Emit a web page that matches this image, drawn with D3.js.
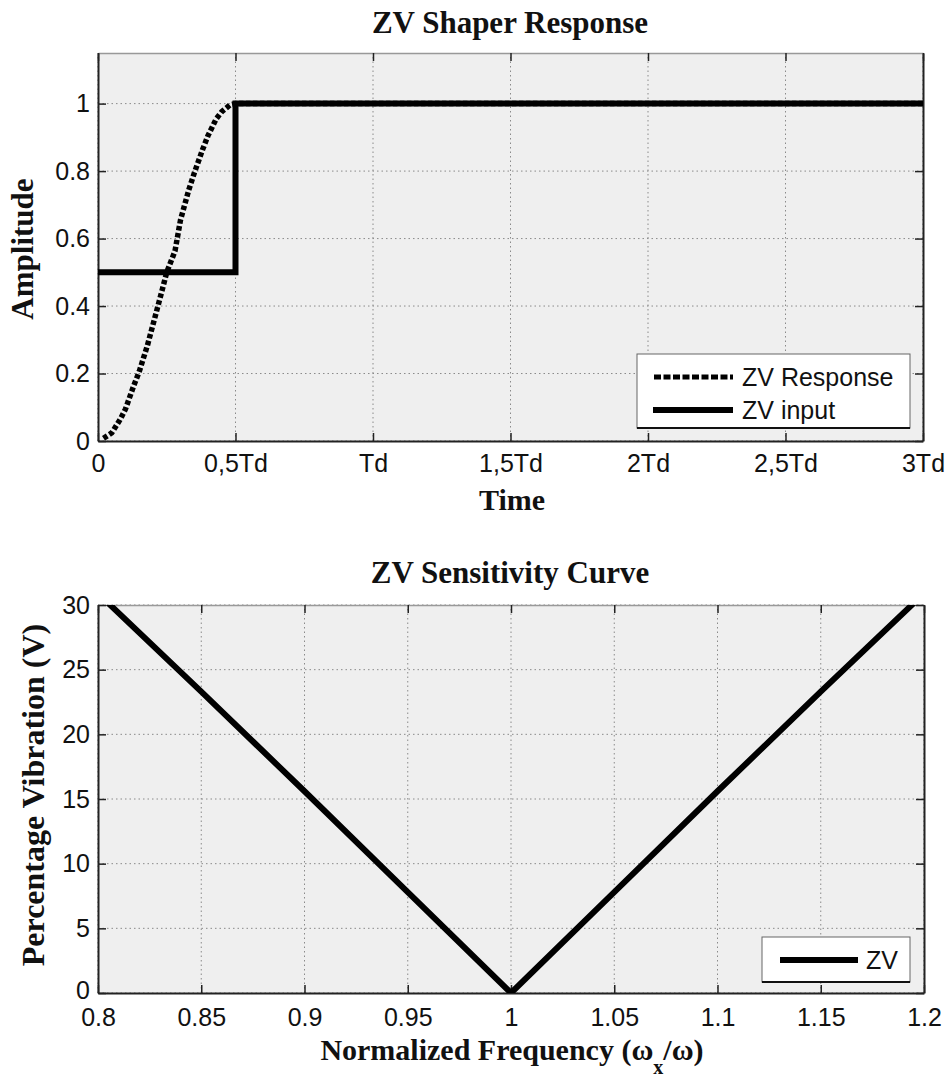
<!DOCTYPE html>
<html>
<head>
<meta charset="utf-8">
<script src="https://cdn.jsdelivr.net/npm/d3@7"></script>
<style>
  body { margin: 0; background: #fff; }
  .tick text { font-family: "Liberation Sans", Arial, sans-serif; font-size: 25px; fill: #111; }
  .ttl { font-family: "Liberation Serif", "Times New Roman", serif; font-weight: bold; fill: #111; }
</style>
</head>
<body>
<div id="chart"></div>
<script>
// top plot: time in units of Td
var respT = [0.02, 0.05, 0.08, 0.1, 0.13, 0.15, 0.18, 0.2, 0.23, 0.25, 0.28, 0.3, 0.33, 0.35, 0.38, 0.4, 0.43, 0.45, 0.48, 0.5, 3];
var respA = [0.008, 0.024, 0.063, 0.095, 0.164, 0.206, 0.284, 0.345, 0.437, 0.5, 0.563, 0.655, 0.744, 0.794, 0.863, 0.905, 0.955, 0.976, 0.996, 1.0, 1.0];
var inputT = [0, 0.5, 0.5, 3];
var inputA = [0.5, 0.5, 1, 1];
var timeTicks = [0, 0.5, 1, 1.5, 2, 2.5, 3];
var timeLabels = ["0", "0,5Td", "Td", "1,5Td", "2Td", "2,5Td", "3Td"];
var ampTicks = [0, 0.2, 0.4, 0.6, 0.8, 1];

// bottom plot
var freq = [0.8, 0.85, 0.9, 0.95, 1.0, 1.05, 1.1, 1.15, 1.2];
var vib = [30.9, 23.3, 15.6, 7.8, 0, 7.8, 15.6, 23.3, 30.9];
var freqTicks = [0.8, 0.85, 0.9, 0.95, 1, 1.05, 1.1, 1.15, 1.2];
var vibTicks = [0, 5, 10, 15, 20, 25, 30];

var svg = d3.select("#chart").append("svg")
    .attr("width", 950).attr("height", 1077);

function drawAxes(g, x, y, xt, xfmt, yt, yfmt, clipId, xpad) {
  var x0 = x.range()[0], x1 = x.range()[1];
  var y0 = y.range()[0], y1 = y.range()[1];

  g.append("rect")
    .attr("x", x0).attr("y", y1)
    .attr("width", x1 - x0).attr("height", y0 - y1)
    .attr("fill", "#efefef");

  g.append("clipPath").attr("id", clipId)
    .append("rect")
    .attr("x", x0).attr("y", y1)
    .attr("width", x1 - x0).attr("height", y0 - y1);

  // dotted grid
  g.selectAll(".vg").data(xt).enter().append("line")
    .attr("x1", d => x(d)).attr("x2", d => x(d))
    .attr("y1", y0).attr("y2", y1)
    .attr("stroke", "#8a8a8a").attr("stroke-width", 1)
    .attr("stroke-dasharray", "1.5,3");
  g.selectAll(".hg").data(yt).enter().append("line")
    .attr("x1", x0).attr("x2", x1)
    .attr("y1", d => y(d)).attr("y2", d => y(d))
    .attr("stroke", "#8a8a8a").attr("stroke-width", 1)
    .attr("stroke-dasharray", "1.5,3");

  var ax = g.append("g").attr("transform", "translate(0," + y0 + ")")
    .call(d3.axisBottom(x).tickValues(xt).tickFormat(xfmt)
      .tickSizeInner(-8).tickSizeOuter(0).tickPadding(xpad));
  var axT = g.append("g").attr("transform", "translate(0," + y1 + ")")
    .call(d3.axisTop(x).tickValues(xt).tickFormat("")
      .tickSizeInner(-8).tickSizeOuter(0));
  var ay = g.append("g").attr("transform", "translate(" + x0 + ",0)")
    .call(d3.axisLeft(y).tickValues(yt).tickFormat(yfmt)
      .tickSizeInner(-8).tickSizeOuter(0).tickPadding(8));
  var ayR = g.append("g").attr("transform", "translate(" + x1 + ",0)")
    .call(d3.axisRight(y).tickValues(yt).tickFormat("")
      .tickSizeInner(-8).tickSizeOuter(0));

  [ax, axT, ay, ayR].forEach(function(a) {
    a.select(".domain").attr("stroke", "#222").attr("stroke-width", 2);
    a.selectAll(".tick line").attr("stroke", "#222").attr("stroke-width", 1.5);
  });
  axT.select(".domain").attr("stroke", "#999").attr("stroke-width", 1.5);
  ax.selectAll(".tick text").attr("dy", "0.71em");
  return ay;
}

// ---------- top: ZV Shaper Response ----------
var xTop = d3.scaleLinear().domain([0, 3]).range([98, 923]);
var yTop = d3.scaleLinear().domain([0, 1.15]).range([441, 53]);
var gTop = svg.append("g");
drawAxes(gTop, xTop, yTop, timeTicks, (d, i) => timeLabels[i], ampTicks, d3.format("~g"), "clipTop", 13);

var lineTop = d3.line().x(d => xTop(d[0])).y(d => yTop(d[1]));
var resp = respT.map((t, i) => [t, respA[i]]);
var inp = inputT.map((t, i) => [t, inputA[i]]);

gTop.append("path").datum(resp)
  .attr("clip-path", "url(#clipTop)")
  .attr("d", lineTop).attr("fill", "none")
  .attr("stroke", "#000").attr("stroke-width", 5.5)
  .attr("stroke-dasharray", "4.5,2.5");
gTop.append("path").datum(inp)
  .attr("clip-path", "url(#clipTop)")
  .attr("d", lineTop).attr("fill", "none")
  .attr("stroke", "#000").attr("stroke-width", 6);

// legend
var lg = gTop.append("g");
lg.append("rect").attr("x", 637).attr("y", 354).attr("width", 273).attr("height", 74)
  .attr("fill", "#fff").attr("stroke", "#666").attr("stroke-width", 1);
lg.append("line").attr("x1", 637).attr("x2", 910).attr("y1", 428).attr("y2", 428)
  .attr("stroke", "#111").attr("stroke-width", 2);
lg.append("line").attr("x1", 654).attr("x2", 733).attr("y1", 377).attr("y2", 377)
  .attr("stroke", "#000").attr("stroke-width", 5).attr("stroke-dasharray", "7,2.5");
lg.append("line").attr("x1", 653).attr("x2", 733).attr("y1", 410).attr("y2", 410)
  .attr("stroke", "#000").attr("stroke-width", 6);
lg.selectAll("text").data(["ZV Response", "ZV input"]).enter().append("text")
  .attr("x", 742).attr("y", (d, i) => 377 + i * 33).attr("dy", "0.35em")
  .style("font-family", "Liberation Sans, Arial, sans-serif").style("font-size", "25px")
  .attr("fill", "#111").text(d => d);

svg.append("text").attr("class", "ttl").attr("x", 510).attr("y", 33)
  .attr("text-anchor", "middle").style("font-size", "31px").text("ZV Shaper Response");
svg.append("text").attr("class", "ttl").attr("x", 512).attr("y", 510)
  .attr("text-anchor", "middle").style("font-size", "30px").text("Time");
svg.append("text").attr("class", "ttl")
  .attr("transform", "translate(33,249) rotate(-90)")
  .attr("text-anchor", "middle").style("font-size", "31px").text("Amplitude");

// ---------- bottom: ZV Sensitivity Curve ----------
var xBot = d3.scaleLinear().domain([0.8, 1.2]).range([98, 924]);
var yBot = d3.scaleLinear().domain([0, 30]).range([993, 605]);
var gBot = svg.append("g");
var ayBot = drawAxes(gBot, xBot, yBot, freqTicks, d3.format("~g"), vibTicks, d3.format("~g"), "clipBot", 15);
// the "0" label sits a touch higher so it clears "0.8"
ayBot.selectAll(".tick text").filter(d => d === 0).attr("dy", "0.2em");

var lineBot = d3.line().x(d => xBot(d[0])).y(d => yBot(d[1]));
gBot.append("path").datum(freq.map((f, i) => [f, vib[i]]))
  .attr("clip-path", "url(#clipBot)")
  .attr("d", lineBot).attr("fill", "none")
  .attr("stroke", "#000").attr("stroke-width", 6);

var lg2 = gBot.append("g");
lg2.append("rect").attr("x", 762).attr("y", 937).attr("width", 148).attr("height", 45)
  .attr("fill", "#fff").attr("stroke", "#666").attr("stroke-width", 1);
lg2.append("line").attr("x1", 762).attr("x2", 910).attr("y1", 982).attr("y2", 982)
  .attr("stroke", "#111").attr("stroke-width", 2);
lg2.append("line").attr("x1", 780).attr("x2", 858).attr("y1", 960).attr("y2", 960)
  .attr("stroke", "#000").attr("stroke-width", 6);
lg2.append("text").attr("x", 866).attr("y", 960).attr("dy", "0.35em")
  .style("font-family", "Liberation Sans, Arial, sans-serif").style("font-size", "25px")
  .attr("fill", "#111").text("ZV");

svg.append("text").attr("class", "ttl").attr("x", 510).attr("y", 583)
  .attr("text-anchor", "middle").style("font-size", "31px").text("ZV Sensitivity Curve");
var xl = svg.append("text").attr("class", "ttl").attr("x", 512).attr("y", 1060)
  .attr("text-anchor", "middle").style("font-size", "30px");
xl.append("tspan").text("Normalized Frequency (\u03c9");
xl.append("tspan").attr("dy", 14).style("font-size", "20px").text("x");
xl.append("tspan").attr("dy", -14).text("/\u03c9)");
svg.append("text").attr("class", "ttl")
  .attr("transform", "translate(44,795) rotate(-90)")
  .attr("text-anchor", "middle").style("font-size", "32px").text("Percentage Vibration (V)");
</script>
</body>
</html>
